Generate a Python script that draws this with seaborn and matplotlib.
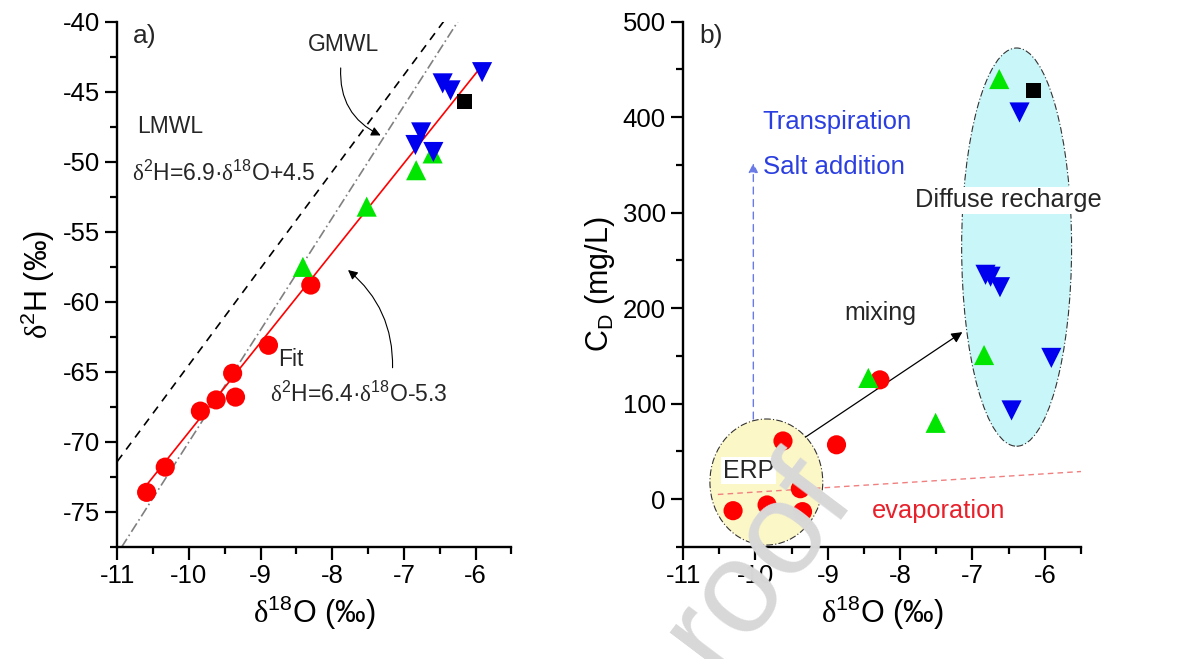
import numpy as np
import pandas as pd
import matplotlib
matplotlib.use('Agg')
import matplotlib.pyplot as plt
from matplotlib.patches import Ellipse
from matplotlib.ticker import MultipleLocator
import seaborn as sns

# ---- data ----
# panel a: d18O vs d2H
red_o18 = [-10.59, -10.33, -9.84, -9.62, -9.39, -9.35, -8.89, -8.30]
red_h2 = [-73.6, -71.8, -67.8, -67.0, -65.1, -66.8, -63.1, -58.8]
green_o18 = [-8.41, -7.52, -6.83, -6.60]
green_h2 = [-57.5, -53.2, -50.6, -49.4]
blue_o18 = [-5.91, -6.46, -6.35, -6.76, -6.84, -6.59]
blue_h2 = [-43.6, -44.4, -44.9, -47.9, -48.8, -49.3]
black_o18 = [-6.15]
black_h2 = [-45.7]

# lines: slope, intercept, x-range
lmwl = dict(slope=6.9, icpt=4.5, x=[-11.0, -6.44])
gmwl = dict(slope=8.0, icpt=10.0, x=[-10.94, -6.25])
fit = dict(slope=6.4, icpt=-5.3, x=[-10.6, -5.9])

# panel b: d18O vs CD (mg/L)
red_b_o18 = [-10.31, -9.84, -9.62, -9.38, -9.35, -8.88, -8.28]
red_b_cd = [-12, -6, 61, 11, -13, 57, 125]
green_b_o18 = [-8.44, -7.51, -6.84, -6.63]
green_b_cd = [127, 80, 151, 440]
blue_b_o18 = [-6.35, -6.82, -6.75, -6.62, -5.91, -6.46]
blue_b_cd = [405, 235, 233, 222, 148, 93]
black_b_o18 = [-6.16]
black_b_cd = [428]

evap_x = [-10.52, -5.5]
evap_cd = [5, 29]

# ---- style ----
sns.set_theme(style='ticks')
plt.rcParams['font.family'] = ['Liberation Sans', 'DejaVu Sans']
plt.rcParams['axes.unicode_minus'] = False
plt.rcParams['mathtext.fontset'] = 'custom'
plt.rcParams['mathtext.rm'] = 'Liberation Sans'
plt.rcParams['mathtext.it'] = 'Liberation Sans:italic'
plt.rcParams['mathtext.tt'] = 'Liberation Serif'
plt.rcParams['mathtext.default'] = 'regular'

RED = '#ff0000'
GREEN = '#00e600'
BLUE = '#0000ee'
D = r'$\mathtt{δ}$'  # serif delta like the original

fig = plt.figure(figsize=(11.84, 6.59), dpi=100)
ax1 = fig.add_axes([0.099, 0.170, 0.333, 0.797])
ax2 = fig.add_axes([0.577, 0.170, 0.336, 0.797])


def style_axis(ax, xmaj, xmin, ymaj, ymin):
    sns.despine(ax=ax)
    for s in ['left', 'bottom']:
        ax.spines[s].set_linewidth(1.7)
        ax.spines[s].set_color('black')
    ax.xaxis.set_major_locator(MultipleLocator(xmaj))
    ax.xaxis.set_minor_locator(MultipleLocator(xmin))
    ax.yaxis.set_major_locator(MultipleLocator(ymaj))
    ax.yaxis.set_minor_locator(MultipleLocator(ymin))
    ax.tick_params(which='major', length=9, width=1.6, labelsize=18.5, direction='out',
                   color='black', labelcolor='black')
    ax.tick_params(which='minor', length=5, width=1.6, direction='out', color='black')


def draw_points(ax, xs, ys, color, marker, size, z=4):
    df = pd.DataFrame({'x': xs, 'y': ys})
    sns.scatterplot(data=df, x='x', y='y', ax=ax, color=color, marker=marker,
                    s=size, edgecolor='none', linewidth=0, zorder=z, legend=False)


# ---- panel a ----
for d, ls, col, lw in [(lmwl, (0, (5, 4)), 'black', 1.2),
                       (gmwl, (0, (6, 2, 1, 2)), 'gray', 1.2),
                       (fit, '-', RED, 1.2)]:
    xs = np.array(d['x'])
    line_df = pd.DataFrame({'x': xs, 'y': d['slope'] * xs + d['icpt']})
    sns.lineplot(data=line_df, x='x', y='y', ax=ax1, color=col, linestyle=ls, linewidth=lw, zorder=2)

draw_points(ax1, red_o18, red_h2, RED, 'o', 190)
draw_points(ax1, green_o18, green_h2, GREEN, '^', 210)
draw_points(ax1, blue_o18, blue_h2, BLUE, 'v', 210, z=5)
draw_points(ax1, black_o18, black_h2, 'black', 's', 120)

ax1.set_xlim(-11, -5.5)
ax1.set_ylim(-77.5, -40)
style_axis(ax1, 1, 0.5, 5, 2.5)
ax1.set_xlabel(D + '$^{18}$O (‰)', fontsize=22, color='black')
ax1.set_ylabel(D + '$^{2}$H (‰)', fontsize=22, color='black')

ax1.text(0.04, 0.995, 'a)', transform=ax1.transAxes, fontsize=19, va='top', ha='left')
ax1.text(-7.84, -41.6, 'GMWL', fontsize=16.5, ha='center', va='center')
ax1.annotate('', xy=(-7.29, -48.2), xytext=(-7.88, -43.1),
             arrowprops=dict(arrowstyle='-|>', color='black', lw=0.8,
                             connectionstyle='arc3,rad=0.35', mutation_scale=14))
ax1.text(-10.72, -47.5, 'LMWL', fontsize=16.5, ha='left', va='center')
ax1.text(-10.8, -50.8, D + '$^{2}$H=6.9·' + D + '$^{18}$O+4.5', fontsize=16.5, ha='left', va='center')
ax1.text(-8.76, -64.1, 'Fit', fontsize=16.5, ha='left', va='center')
ax1.text(-8.87, -66.6, D + '$^{2}$H=6.4·' + D + '$^{18}$O-5.3', fontsize=16.5, ha='left', va='center')
ax1.annotate('', xy=(-7.81, -57.6), xytext=(-7.16, -64.9),
             arrowprops=dict(arrowstyle='-|>', color='black', lw=0.8,
                             connectionstyle='arc3,rad=0.25', mutation_scale=14))

# ---- panel b ----
ax2.add_patch(Ellipse((-6.39, 264), 1.52, 417, facecolor='#c8f6f9', edgecolor='#333333',
                      linestyle=(0, (6, 2, 1, 2)), linewidth=0.8, zorder=1))
ax2.add_patch(Ellipse((-9.85, 18), 1.56, 132, facecolor='#fcf7c6', edgecolor='#333333',
                      linestyle=(0, (6, 2, 1, 2)), linewidth=0.8, zorder=1))

evap_df = pd.DataFrame({'x': evap_x, 'y': evap_cd})
sns.lineplot(data=evap_df, x='x', y='y', ax=ax2, color='#f08080', linestyle=(0, (4, 3)),
             linewidth=1.0, zorder=2)

ax2.annotate('', xy=(-10.03, 352), xytext=(-10.03, 84),
             arrowprops=dict(arrowstyle='-|>', color='#6a7be8', lw=1.0, linestyle=(0, (5, 4)),
                             mutation_scale=14, shrinkA=0, shrinkB=0), zorder=2)
ax2.annotate('', xy=(-7.14, 175), xytext=(-9.31, 65),
             arrowprops=dict(arrowstyle='-|>', color='black', lw=0.9,
                             mutation_scale=16, shrinkA=0, shrinkB=0), zorder=3)

draw_points(ax2, red_b_o18, red_b_cd, RED, 'o', 190)
draw_points(ax2, green_b_o18, green_b_cd, GREEN, '^', 210)
draw_points(ax2, blue_b_o18, blue_b_cd, BLUE, 'v', 210, z=5)
draw_points(ax2, black_b_o18, black_b_cd, 'black', 's', 120)

ax2.set_xlim(-11, -5.5)
ax2.set_ylim(-50, 500)
style_axis(ax2, 1, 0.5, 100, 50)
ax2.set_xlabel(D + '$^{18}$O (‰)', fontsize=22, color='black')
ax2.set_ylabel('C$_{D}$ (mg/L)', fontsize=22, color='black')

ax2.text(0.04, 0.995, 'b)', transform=ax2.transAxes, fontsize=19, va='top', ha='left')
ax2.text(-9.9, 395, 'Transpiration', fontsize=18.5, color='#2b3fe0', ha='left', va='center')
ax2.text(-9.9, 348, 'Salt addition', fontsize=18.5, color='#2b3fe0', ha='left', va='center')
ax2.text(-6.5, 313, 'Diffuse recharge', fontsize=18.3, ha='center', va='center', zorder=6,
         bbox=dict(facecolor='white', edgecolor='none', pad=1))
ax2.text(-8.28, 195, 'mixing', fontsize=18, ha='center', va='center')
ax2.text(-10.45, 30, 'ERP', fontsize=18, ha='left', va='center', zorder=6,
         bbox=dict(facecolor='white', edgecolor='none', pad=1))
ax2.text(-8.39, -12, 'evaporation', fontsize=18.3, color='#e8202a', ha='left', va='center')

# proof watermark
fig.text(0.640, 0.146, 'roof', fontsize=95, color='#d8d8d8', rotation=53,
         rotation_mode='anchor', ha='center', va='center', zorder=10)

fig.savefig('out.png', dpi=100)
